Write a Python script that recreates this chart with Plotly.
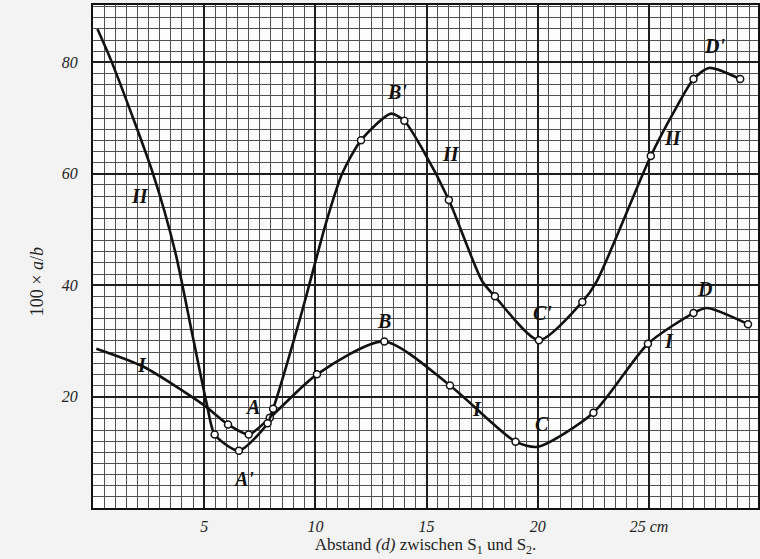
import plotly.graph_objects as go

# curve I (lower) - points along the drawn line, cm / 100*a/b
curve1_x = [0.15, 2.25, 4.94, 6.07, 7.0, 7.95, 10.07, 13.1, 16.05, 19.0, 20.0, 22.5, 24.95, 27.0, 27.6, 29.45]
curve1_y = [28.6, 25.4, 18.6, 15.0, 13.2, 16.2, 24.0, 29.9, 22.0, 11.9, 11.0, 17.1, 29.5, 35.0, 35.9, 33.0]
# measured points (circles) on curve I
meas1_x = [6.07, 7.0, 7.95, 10.07, 13.1, 16.05, 19.0, 22.5, 24.95, 27.0, 29.45]
meas1_y = [15.0, 13.2, 16.2, 24.0, 29.9, 22.0, 11.9, 17.1, 29.5, 35.0, 33.0]

# curve II (upper)
curve2_x = [0.2, 0.85, 2.7, 3.69, 4.5, 5.12, 5.47, 6.56, 7.85, 8.1, 9.4, 10.5, 11.2, 12.05, 13.4, 14.0,
            14.8, 16.0, 17.5, 18.07, 20.05, 22.0, 22.65, 25.08, 26.2, 27.0, 27.7, 29.1]
curve2_y = [86.0, 80.0, 60.0, 46.1, 30.5, 18.6, 13.2, 10.3, 15.2, 17.8, 35.3, 51.5, 60.0, 66.0, 70.8, 69.5,
            64.5, 55.3, 40.7, 38.0, 30.1, 37.0, 40.7, 63.2, 71.7, 77.0, 79.0, 77.0]
meas2_x = [5.47, 6.56, 7.85, 8.1, 12.05, 14.0, 16.0, 18.07, 20.05, 22.0, 25.08, 27.0, 29.1]
meas2_y = [13.2, 10.3, 15.2, 17.8, 66.0, 69.5, 55.3, 38.0, 30.1, 37.0, 63.2, 77.0, 77.0]

# lettering on the curves
label_text = ["II", "I", "II", "I", "II", "I", "A", "A'", "B", "B'", "C", "C'", "D", "D'"]
label_x = [2.1, 2.2, 16.1, 17.25, 26.1, 25.9, 7.15, 6.75, 13.1, 13.65, 20.2, 20.2, 27.5, 27.95]
label_y = [56.0, 25.6, 63.6, 17.8, 66.5, 29.9, 18.2, 5.2, 33.5, 74.6, 15.1, 35.0, 39.3, 83.0]

x_ticks = [5, 10, 15, 20, 25]
x_tick_text = ["5", "10", "15", "20", "25 cm"]
y_ticks = [20, 40, 60, 80]

serif = "Liberation Serif, DejaVu Serif, serif"

fig = go.Figure()

for cx, cy, mx, my in [(curve1_x, curve1_y, meas1_x, meas1_y),
                       (curve2_x, curve2_y, meas2_x, meas2_y)]:
    fig.add_scatter(x=cx, y=cy, mode="lines",
                    line=dict(color="#111111", width=2.6, shape="spline", smoothing=0.7),
                    hoverinfo="skip", showlegend=False)
    fig.add_scatter(x=mx, y=my, mode="markers",
                    marker=dict(symbol="circle", size=7, color="white",
                                line=dict(color="#111111", width=1.5)),
                    showlegend=False)

for t, lx, ly in zip(label_text, label_x, label_y):
    fig.add_annotation(x=lx, y=ly, text="<b><i>" + t + "</i></b>", showarrow=False,
                       font=dict(family=serif, size=20, color="#111111"))

# rotated y label, placed well left of the tick numbers
fig.add_annotation(xref="paper", yref="paper", x=-0.103, y=0.45,
                   text="100 × <i>a</i>/<i>b</i>", textangle=-90, showarrow=False,
                   font=dict(family=serif, size=18, color="#222222"))

fig.update_layout(
    width=760, height=559,
    margin=dict(l=93, r=2, t=5, b=51),
    paper_bgcolor="#f3f3f3",
    plot_bgcolor="#fdfdfd",
    xaxis=dict(
        range=[0, 29.9],
        automargin=False,
        tickvals=x_ticks,
        ticktext=["<i>" + t + "</i>" for t in x_tick_text],
        tickfont=dict(family=serif, size=16, color="#222222"),
        ticks="", ticklen=0, ticklabelstandoff=3,
        showgrid=True, gridcolor="#1e1e1e", gridwidth=1.6,
        minor=dict(dtick=0.5, tick0=0, showgrid=True, gridcolor="#505050", gridwidth=1),
        showline=True, linecolor="#111111", linewidth=2, mirror=True,
        zeroline=False,
        title=dict(text="Abstand <i>(d)</i> zwischen S<sub>1</sub> und S<sub>2</sub>.",
                   font=dict(family=serif, size=17, color="#222222"), standoff=2),
    ),
    yaxis=dict(
        range=[0, 90.3],
        automargin=False,
        tickvals=y_ticks,
        ticktext=["<i>" + str(v) + "</i>" for v in y_ticks],
        tickfont=dict(family=serif, size=16, color="#222222"),
        ticks="", ticklen=0, ticklabelstandoff=10,
        showgrid=True, gridcolor="#1e1e1e", gridwidth=1.6,
        minor=dict(dtick=2, tick0=0, showgrid=True, gridcolor="#505050", gridwidth=1),
        showline=True, linecolor="#111111", linewidth=2, mirror=True,
        zeroline=False,
    ),
)

fig.write_html("out.html", config={"displayModeBar": False},
               post_script="document.body.style.margin='0';")
